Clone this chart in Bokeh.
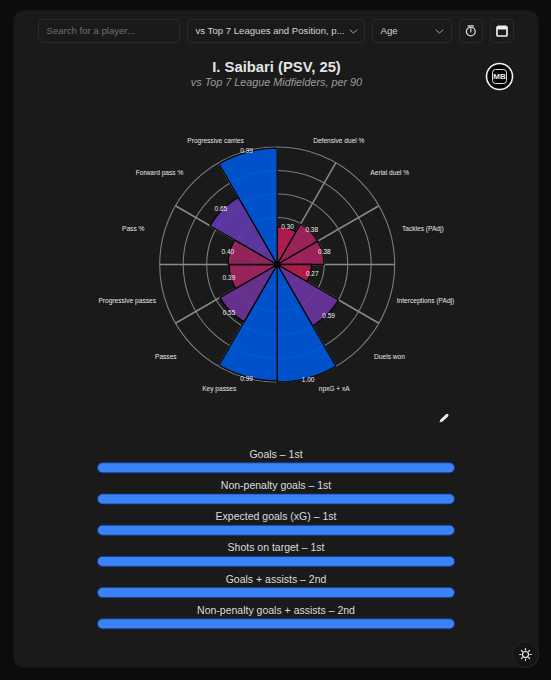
import math
from bokeh.plotting import figure
from bokeh.models import Range1d
from bokeh.core.properties import value
from bokeh.embed import file_html
from bokeh.resources import INLINE

# ---- chart data ----
categories = ["Defensive duel %", "Aerial duel %", "Tackles (PAdj)", "Interceptions (PAdj)",
              "Duels won", "npxG + xA", "Key passes", "Passes", "Progressive passes",
              "Pass %", "Forward pass %", "Progressive carries"]
percentiles = [0.30, 0.38, 0.38, 0.27, 0.59, 1.00, 0.99, 0.55, 0.39, 0.40, 0.65, 0.99]
bar_colors = ["#b81c52", "#a3235f", "#a3235f", "#b81c4c", "#6a359f", "#0056d8",
              "#0056d8", "#6e3397", "#a3235f", "#9c2662", "#5f3aa9", "#0056d8"]
rank_labels = ["Goals – 1st", "Non-penalty goals – 1st", "Expected goals (xG) – 1st",
               "Shots on target – 1st", "Goals + assists – 2nd", "Non-penalty goals + assists – 2nd"]
rank_values = [1, 1, 1, 1, 1, 1]
ring_levels = [0.2, 0.4, 0.6, 0.8, 1.0]

# ---- layout (page pixels) ----
FIG_W, FIG_H, M = 551, 680, 0
CX, CY, R = 276.7, 264.0, 117.5
HOLE = 0.03
BAR_L, BAR_W, BAR_Y0, BAR_DY = 97.0, 357.0, 467.3, 31.2
label_px = [(338.3, 140.3), (389.3, 172.3), (422.3, 227.7), (425.0, 300.0), (389.0, 355.7), (333.7, 388.0),
            (218.7, 388.0), (165.3, 355.7), (126.7, 300.0), (132.7, 227.7), (159.0, 172.3), (215.0, 140.3)]
FONT = value("Liberation Sans")

p = figure(width=FIG_W, height=FIG_H, output_backend="svg", toolbar_location=None,
           x_axis_type=None, y_axis_type=None, min_border=0,
           x_range=Range1d((M - CX) / R, (M + FIG_W - CX) / R),
           y_range=Range1d((CY - M - FIG_H) / R, (CY - M) / R),
           background_fill_color="#0c0c0c", border_fill_color="#0c0c0c", outline_line_color=None)
p.grid.visible = False
p.extra_x_ranges = {"px": Range1d(M, M + FIG_W),
                    "bar": Range1d((M - BAR_L) / BAR_W, (M + FIG_W - BAR_L) / BAR_W)}
p.extra_y_ranges = {"px": Range1d(M + FIG_H, M),
                    "bar": Range1d((M + FIG_H - BAR_Y0) / BAR_DY, (M - BAR_Y0) / BAR_DY)}
PX = dict(x_range_name="px", y_range_name="px")
BAR = dict(x_range_name="bar", y_range_name="bar")


def txt(x, y, s, size, color, style="normal", **kw):
    p.text(x=[x], y=[y], text=[s], text_font=FONT, text_font_size=f"{size}px", text_color=color,
           text_font_style=style, text_align=kw.pop("align", "center"), text_baseline="middle", **PX, **kw)


def box(x0, y0, x1, y1, fill="#1a1a1a", line="#2a2a2a", r=4, **kw):
    p.quad(left=[x0], right=[x1], top=[y0], bottom=[y1], fill_color=fill, line_color=line,
           border_radius=r, **PX, **kw)


def stroke(xs, ys, color="#d8d8d8", w=1.0):
    p.line(xs, ys, line_color=color, line_width=w, line_cap="round", **PX)


# panel
box(13, 10, 538, 667, fill="#1a1a1a", line=None, r=10)

# controls
box(38, 19, 179, 42)
txt(46, 29.8, "Search for a player...", 9.6, "#6f6f6f", align="left")
box(187, 19, 364, 42)
txt(195, 29.8, "vs Top 7 Leagues and Position, p...", 9.6, "#d4d4d4", align="left")
stroke([349.5, 353, 356.5], [29.5, 32.5, 29.5], "#a0a0a0")
box(372, 19, 451, 42)
txt(380, 29.8, "Age", 9.6, "#d4d4d4", align="left")
stroke([435.5, 439, 442.5], [29.5, 32.5, 29.5], "#a0a0a0")
box(459, 19, 482, 42)
box(490, 19, 513, 42)
# clock icon
p.circle(x=[470.3], y=[31], radius=4.4, fill_color=None, line_color="#d8d8d8", line_width=1.3, **PX)
stroke([470.3, 470.3], [28, 31.5], w=1.2)
stroke([467.5, 473], [25.3, 25.3], w=1.2)
# calendar icon
box(496.5, 26.5, 506.5, 35.5, fill=None, line="#eeeeee", r=1, line_width=1.7)
box(496.5, 25.5, 506.5, 28.5, fill="#eeeeee", line="#eeeeee", r=1)

# titles
txt(276, 66.6, "I. Saibari (PSV, 25)", 14.8, "#e4e4e4", "bold")
txt(276, 81.8, "vs Top 7 League Midfielders, per 90", 10.8, "#9a9a9a", "italic")

# logo
p.circle(x=[499], y=[76], radius=13, fill_color="#050505", line_color="#f0f0f0", line_width=1.6, **PX)
box(492, 69, 506, 83, fill=None, line="#e0e0e0", r=3, line_width=1)
txt(499, 76.3, "MB", 8, "#f0f0f0", "bold")

# polar chart: rings and spokes
for lv in ring_levels:
    p.circle(x=[0], y=[0], radius=lv, fill_color=None, line_color="#7c7c7c", line_width=1.1)
n = len(categories)
step = 2 * math.pi / n
sx = [math.sin(i * step) for i in range(n)]
sy = [math.cos(i * step) for i in range(n)]
p.segment(x0=[0] * n, y0=[0] * n, x1=sx, y1=sy, line_color="#8a8a8a", line_width=1.5)

radii = [HOLE + (1 - HOLE) * v for v in percentiles]
starts = [math.pi / 2 - (i + 1) * step for i in range(n)]
ends = [math.pi / 2 - i * step for i in range(n)]
p.annular_wedge(x=[0] * n, y=[0] * n, inner_radius=0, outer_radius=radii, start_angle=starts, end_angle=ends,
                fill_color=bar_colors, fill_alpha=0.93, line_color="#050505", line_width=1.3)
p.circle(x=[0], y=[0], radius=HOLE, fill_color="#050505", line_color=None)

mids = [(i + 0.5) * step for i in range(n)]
p.text(x=[(r + 0.017) * math.sin(a) for r, a in zip(radii, mids)],
       y=[(r + 0.017) * math.cos(a) for r, a in zip(radii, mids)],
       text=[f"{v:.2f}" for v in percentiles], text_font=FONT, text_font_size="6.5px", text_color="#f0f0f0",
       text_align="center", text_baseline="middle")
p.text(x=[q[0] for q in label_px], y=[q[1] for q in label_px], text=categories, text_font=FONT,
       text_font_size="6.6px", text_color="#e6e6e6", text_align="center", text_baseline="middle", **PX)

# pencil
stroke([441, 446.5], [420, 414.8], "#eeeeee", 3.0)
stroke([439.6, 440.6], [421.4, 420.4], "#cccccc", 1.2)

# ranking bars
idx = list(range(len(rank_labels)))
p.hbar(y=idx, left=[0] * len(idx), right=rank_values, height=10 / BAR_DY, fill_color="#3b82f6",
       line_color="#123a86", line_width=0.8, border_radius=5, **BAR)
p.text(x=[0.5] * len(idx), y=[i - 14 / BAR_DY for i in idx], text=rank_labels, text_font=FONT,
       text_font_size="10.5px", text_color="#dcdcdc", text_align="center", text_baseline="middle", **BAR)

# theme button
p.circle(x=[525], y=[654], radius=13, fill_color="#151515", line_color="#262626", line_width=1, **PX)
p.circle(x=[525], y=[654], radius=3, fill_color=None, line_color="#eeeeee", line_width=1.2, **PX)
for k in range(8):
    a = k * math.pi / 4
    stroke([525 + 4.6 * math.cos(a), 525 + 5.8 * math.cos(a)], [654 + 4.6 * math.sin(a), 654 + 5.8 * math.sin(a)],
           "#eeeeee", 1.2)

html = file_html(p, INLINE)
html = html.replace("<head>", "<head><style>html,body{background:#0c0c0c;overflow:hidden}</style>", 1)
open("out.html", "w").write(html)
